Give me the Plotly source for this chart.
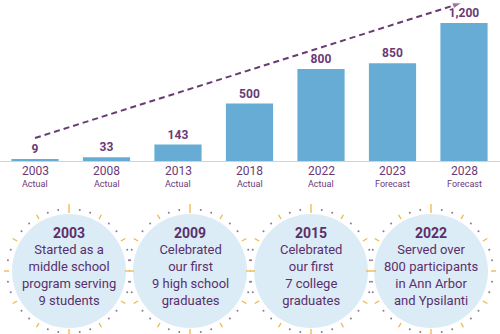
import math
import plotly.graph_objects as go

# Enrollment history and forecast
years = ["2003", "2008", "2013", "2018", "2022", "2023", "2028"]
status = ["Actual", "Actual", "Actual", "Actual", "Actual", "Forecast", "Forecast"]
participants = [9, 33, 143, 500, 800, 850, 1200]

# Growth trend arrow (start and end of the dashed guide line)
trend_x = [0, 5.97]
trend_y = [200, 1375]

# Milestones shown in the badges below the chart
milestone_years = ["2003", "2009", "2015", "2022"]
milestone_text = [
    "Started as a<br>middle school<br>program serving<br>9 students",
    "Celebrated<br>our first<br>9 high school<br>graduates",
    "Celebrated<br>our first<br>7 college<br>graduates",
    "Served over<br>800 participants<br>in Ann Arbor<br>and Ypsilanti",
]

W, H = 500, 334
FONT = "Roboto"
BAR = "#67acd5"
PURPLE = "#6a3a76"
TEXT = "#5b2f6b"
BADGE = "#dcecf7"
RAY = "#f2b44a"
DOT = "#8a7a96"

xs = list(range(len(years)))

fig = go.Figure()

fig.add_trace(go.Bar(
    x=xs, y=participants, width=0.66,
    marker=dict(color=BAR, line=dict(width=0)),
    texttemplate="%{y:,}", textposition="outside",
    textfont=dict(family=FONT, size=12, color=PURPLE, weight="bold"),
    constraintext="none", cliponaxis=False, hoverinfo="skip",
))

# Dashed trend line with a dot at its start and an arrowhead at its end
fig.add_trace(go.Scatter(
    x=trend_x, y=trend_y, mode="lines+markers",
    line=dict(color=PURPLE, width=2, dash="6px,4px"),
    marker=dict(symbol=["circle", "arrow"], size=[7, 10], color=PURPLE,
                angleref="previous"),
    cliponaxis=False, hoverinfo="skip",
))

# Badge geometry in a pixel-space overlay
cx_list = [69, 190, 311, 431]
cy, r = 271, 57

tick_x, tick_y, dot_x, dot_y = [], [], [], []
for cx in cx_list:
    fig.add_shape(type="circle", xref="x2", yref="y2",
                  x0=cx - r, x1=cx + r, y0=cy - r, y1=cy + r,
                  fillcolor=BADGE, line=dict(width=0), layer="below")
    for k in range(36):
        ang = math.radians(k * 10)
        if k % 3 == 0:
            long = k in (9, 27)
            r0, r1 = (r + 1, r + 10) if long else (r + 3, r + 8)
            tick_x += [cx + r0 * math.cos(ang), cx + r1 * math.cos(ang), None]
            tick_y += [cy - r0 * math.sin(ang), cy - r1 * math.sin(ang), None]
        else:
            dot_x.append(cx + (r + 5) * math.cos(ang))
            dot_y.append(cy - (r + 5) * math.sin(ang))

fig.add_trace(go.Scatter(x=tick_x, y=tick_y, xaxis="x2", yaxis="y2",
                         mode="lines", line=dict(color=RAY, width=1.3),
                         cliponaxis=False, hoverinfo="skip"))
fig.add_trace(go.Scatter(x=dot_x, y=dot_y, xaxis="x2", yaxis="y2",
                         mode="markers", marker=dict(size=2, color=DOT),
                         cliponaxis=False, hoverinfo="skip"))

annotations = []
for i, (yr, st) in enumerate(zip(years, status)):
    annotations.append(dict(x=i, y=1 - 171 / H, xref="x", yref="paper",
                            text=yr, showarrow=False, yanchor="middle",
                            font=dict(family=FONT, size=12, color=PURPLE)))
    annotations.append(dict(x=i, y=1 - 184 / H, xref="x", yref="paper",
                            text=st, showarrow=False, yanchor="middle",
                            font=dict(family=FONT, size=9, color=PURPLE)))

for cx, my, mt in zip(cx_list, milestone_years, milestone_text):
    annotations.append(dict(x=cx, y=233, xref="x2", yref="y2",
                            text="<b>" + my + "</b>", showarrow=False,
                            yanchor="middle",
                            font=dict(family=FONT, size=14, color=TEXT)))
    annotations.append(dict(x=cx, y=275, xref="x2", yref="y2",
                            text=mt, showarrow=False, yanchor="middle",
                            font=dict(family=FONT, size=13, color=TEXT)))

fig.update_layout(
    width=W, height=H,
    margin=dict(l=0, r=0, t=0, b=0),
    paper_bgcolor="white", plot_bgcolor="rgba(0,0,0,0)",
    showlegend=False,
    xaxis=dict(range=[-0.4895, 6.5035], domain=[0, 1], showgrid=False,
               zeroline=False, showticklabels=False, fixedrange=True),
    yaxis=dict(range=[0, 1400], domain=[1 - 161 / H, 1], showgrid=False,
               zeroline=True, zerolinecolor="#cfd3d8", zerolinewidth=1.2,
               showticklabels=False, fixedrange=True),
    xaxis2=dict(range=[0, W], domain=[0, 1], visible=False, anchor="y2"),
    yaxis2=dict(range=[H, 0], domain=[0, 1], visible=False, anchor="x2"),
    annotations=annotations,
)

fig.write_html("out.html")
